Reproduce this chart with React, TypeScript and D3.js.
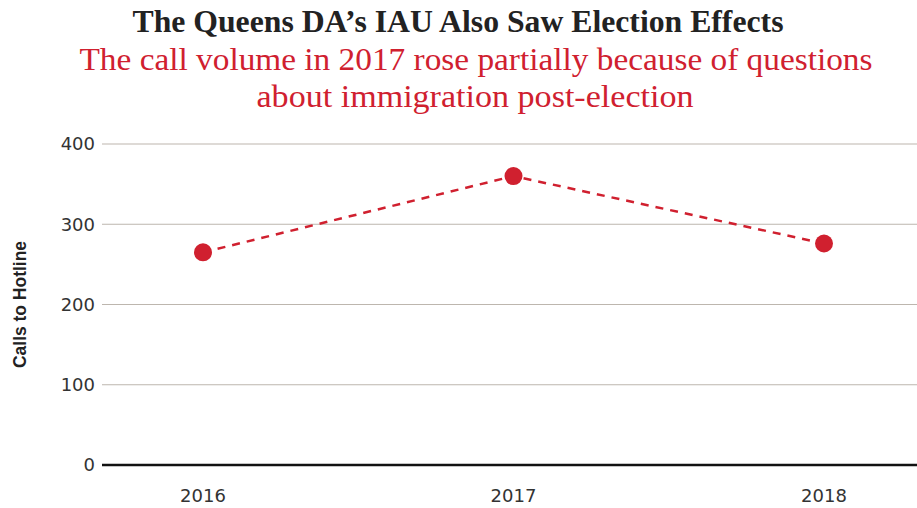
import { useEffect } from 'react';
import * as d3 from 'd3';

const years = ['2016', '2017', '2018'];
const calls = [265, 360, 276];
const yTicks = [0, 100, 200, 300, 400];

const WIDTH = 917;
const HEIGHT = 508;
const RED = '#d0202f';
const SANS = '"DejaVu Sans", "Liberation Sans", Arial, sans-serif';
const SERIF = '"Liberation Serif", "Times New Roman", serif';

export default function App() {
  useEffect(() => {
    document.body.style.margin = '0';
  }, []);

  const x = d3.scalePoint<string>().domain(years).range([203, 824]);
  const y = d3.scaleLinear().domain([0, 400]).range([465, 144]);

  const line = d3
    .line<number>()
    .x((_, i) => x(years[i]) ?? 0)
    .y((d) => y(d));

  return (
    <svg width={WIDTH} height={HEIGHT} style={{ display: 'block', background: '#fff' }}>
      {/* Titles */}
      <text
        x={458}
        y={32}
        textAnchor="middle"
        fontFamily={SERIF}
        fontWeight="bold"
        fontSize={31}
        fill="#222"
        textLength={651}
        lengthAdjust="spacingAndGlyphs"
      >
        The Queens DA’s IAU Also Saw Election Effects
      </text>
      <text
        x={476}
        y={70}
        textAnchor="middle"
        fontFamily={SERIF}
        fontSize={31}
        fill={RED}
        textLength={793}
        lengthAdjust="spacingAndGlyphs"
      >
        The call volume in 2017 rose partially because of questions
      </text>
      <text
        x={475}
        y={107}
        textAnchor="middle"
        fontFamily={SERIF}
        fontSize={31}
        fill={RED}
        textLength={437}
        lengthAdjust="spacingAndGlyphs"
      >
        about immigration post-election
      </text>

      {/* Grid lines and y labels */}
      {yTicks.map((t) => (
        <g key={t}>
          {t !== 0 && (
            <line x1={102} x2={WIDTH} y1={y(t)} y2={y(t)} stroke="#bdb6ae" strokeWidth={1.2} />
          )}
          <text
            x={95}
            y={y(t)}
            dy="0.36em"
            textAnchor="end"
            fontFamily={SANS}
            fontSize={18}
            fill="#333"
          >
            {t}
          </text>
        </g>
      ))}
      <line x1={102} x2={WIDTH} y1={y(0)} y2={y(0)} stroke="#111" strokeWidth={2.5} />

      {/* Y axis title */}
      <text
        transform={`translate(26,${(y(0) + y(400)) / 2}) rotate(-90)`}
        textAnchor="middle"
        fontFamily='"Liberation Sans", Arial, sans-serif'
        fontWeight="bold"
        fontSize={17.5}
        fill="#222"
        textLength={127}
        lengthAdjust="spacingAndGlyphs"
      >
        Calls to Hotline
      </text>

      {/* X labels */}
      {years.map((yr) => (
        <text
          key={yr}
          x={x(yr)}
          y={502}
          textAnchor="middle"
          fontFamily={SANS}
          fontSize={18}
          fill="#333"
        >
          {yr}
        </text>
      ))}

      {/* Line */}
      <path
        d={line(calls) ?? ''}
        fill="none"
        stroke={RED}
        strokeWidth={2.5}
        strokeDasharray="8,7"
      />
      {calls.map((c, i) => (
        <circle key={years[i]} cx={x(years[i])} cy={y(c)} r={9} fill={RED} />
      ))}
    </svg>
  );
}
